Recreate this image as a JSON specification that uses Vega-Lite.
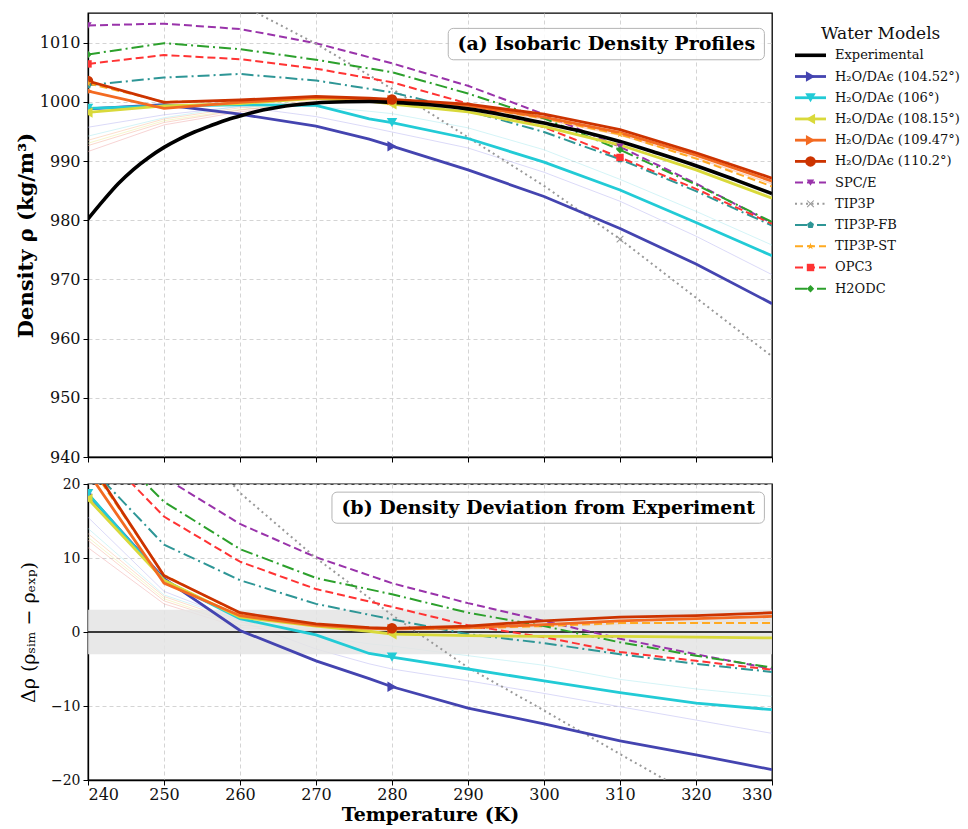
{
  "$schema": "https://vega.github.io/schema/vega-lite/v6.json",
  "padding": {"left": 14, "top": 12, "right": 0, "bottom": 0},
  "background": "white",
  "config": {
    "font": "DejaVu Serif",
    "view": {"stroke": "#000000", "strokeWidth": 1.3},
    "axis": {
      "labelFont": "DejaVu Serif", "labelFontSize": 16, "labelColor": "#111111", "labelOverlap": false,
      "titleFont": "DejaVu Serif", "titleFontSize": 21, "titleColor": "#000000", "titleFontWeight": "bold",
      "tickColor": "#000000", "tickSize": 5, "domainColor": "#000000", "domainWidth": 1.3,
      "gridColor": "#cfcfcf", "gridDash": [4, 3], "gridWidth": 0.9, "labelPadding": 3
    }
  },
  "datasets": {
    "series": [
      {"model": "H₂O/DAϵ (104.52°)", "group": "da", "T": 240, "rho": 998.8, "dev": 18.6},
      {"model": "H₂O/DAϵ (104.52°)", "group": "da", "T": 250, "rho": 999.5, "dev": 7.2},
      {"model": "H₂O/DAϵ (104.52°)", "group": "da", "T": 260, "rho": 997.9, "dev": 0.2},
      {"model": "H₂O/DAϵ (104.52°)", "group": "da", "T": 270, "rho": 995.9, "dev": -3.9},
      {"model": "H₂O/DAϵ (104.52°)", "group": "da", "T": 277, "rho": 993.7, "dev": -6.3},
      {"model": "H₂O/DAϵ (104.52°)", "group": "da", "T": 280, "rho": 992.5, "dev": -7.4},
      {"model": "H₂O/DAϵ (104.52°)", "group": "da", "T": 290, "rho": 988.5, "dev": -10.3},
      {"model": "H₂O/DAϵ (104.52°)", "group": "da", "T": 300, "rho": 984.0, "dev": -12.4},
      {"model": "H₂O/DAϵ (104.52°)", "group": "da", "T": 310, "rho": 978.6, "dev": -14.7},
      {"model": "H₂O/DAϵ (104.52°)", "group": "da", "T": 320, "rho": 972.6, "dev": -16.6},
      {"model": "H₂O/DAϵ (104.52°)", "group": "da", "T": 330, "rho": 965.9, "dev": -18.6},
      {"model": "H₂O/DAϵ (106°)", "group": "da", "T": 240, "rho": 998.9, "dev": 18.7},
      {"model": "H₂O/DAϵ (106°)", "group": "da", "T": 250, "rho": 999.3, "dev": 7.0},
      {"model": "H₂O/DAϵ (106°)", "group": "da", "T": 260, "rho": 999.5, "dev": 1.8},
      {"model": "H₂O/DAϵ (106°)", "group": "da", "T": 270, "rho": 999.4, "dev": -0.4},
      {"model": "H₂O/DAϵ (106°)", "group": "da", "T": 277, "rho": 997.1, "dev": -2.9},
      {"model": "H₂O/DAϵ (106°)", "group": "da", "T": 280, "rho": 996.5, "dev": -3.4},
      {"model": "H₂O/DAϵ (106°)", "group": "da", "T": 290, "rho": 993.8, "dev": -5.0},
      {"model": "H₂O/DAϵ (106°)", "group": "da", "T": 300, "rho": 989.8, "dev": -6.6},
      {"model": "H₂O/DAϵ (106°)", "group": "da", "T": 310, "rho": 985.1, "dev": -8.2},
      {"model": "H₂O/DAϵ (106°)", "group": "da", "T": 320, "rho": 979.6, "dev": -9.6},
      {"model": "H₂O/DAϵ (106°)", "group": "da", "T": 330, "rho": 974.0, "dev": -10.5},
      {"model": "H₂O/DAϵ (108.15°)", "group": "da", "T": 240, "rho": 998.2, "dev": 18.0},
      {"model": "H₂O/DAϵ (108.15°)", "group": "da", "T": 250, "rho": 999.3, "dev": 7.0},
      {"model": "H₂O/DAϵ (108.15°)", "group": "da", "T": 260, "rho": 999.7, "dev": 2.0},
      {"model": "H₂O/DAϵ (108.15°)", "group": "da", "T": 270, "rho": 1000.6, "dev": 0.8},
      {"model": "H₂O/DAϵ (108.15°)", "group": "da", "T": 277, "rho": 1000.1, "dev": 0.1},
      {"model": "H₂O/DAϵ (108.15°)", "group": "da", "T": 280, "rho": 999.6, "dev": -0.3},
      {"model": "H₂O/DAϵ (108.15°)", "group": "da", "T": 290, "rho": 998.3, "dev": -0.5},
      {"model": "H₂O/DAϵ (108.15°)", "group": "da", "T": 300, "rho": 995.8, "dev": -0.6},
      {"model": "H₂O/DAϵ (108.15°)", "group": "da", "T": 310, "rho": 992.7, "dev": -0.6},
      {"model": "H₂O/DAϵ (108.15°)", "group": "da", "T": 320, "rho": 988.5, "dev": -0.7},
      {"model": "H₂O/DAϵ (108.15°)", "group": "da", "T": 330, "rho": 983.7, "dev": -0.8},
      {"model": "H₂O/DAϵ (109.47°)", "group": "da", "T": 240, "rho": 1001.8, "dev": 21.6},
      {"model": "H₂O/DAϵ (109.47°)", "group": "da", "T": 250, "rho": 998.9, "dev": 6.6},
      {"model": "H₂O/DAϵ (109.47°)", "group": "da", "T": 260, "rho": 999.9, "dev": 2.2},
      {"model": "H₂O/DAϵ (109.47°)", "group": "da", "T": 270, "rho": 1000.7, "dev": 0.9},
      {"model": "H₂O/DAϵ (109.47°)", "group": "da", "T": 277, "rho": 1000.5, "dev": 0.5},
      {"model": "H₂O/DAϵ (109.47°)", "group": "da", "T": 280, "rho": 1000.3, "dev": 0.4},
      {"model": "H₂O/DAϵ (109.47°)", "group": "da", "T": 290, "rho": 999.4, "dev": 0.6},
      {"model": "H₂O/DAϵ (109.47°)", "group": "da", "T": 300, "rho": 997.4, "dev": 1.0},
      {"model": "H₂O/DAϵ (109.47°)", "group": "da", "T": 310, "rho": 994.8, "dev": 1.5},
      {"model": "H₂O/DAϵ (109.47°)", "group": "da", "T": 320, "rho": 991.0, "dev": 1.8},
      {"model": "H₂O/DAϵ (109.47°)", "group": "da", "T": 330, "rho": 986.6, "dev": 2.1},
      {"model": "H₂O/DAϵ (110.2°)", "group": "da", "T": 240, "rho": 1003.5, "dev": 23.3},
      {"model": "H₂O/DAϵ (110.2°)", "group": "da", "T": 250, "rho": 999.9, "dev": 7.6},
      {"model": "H₂O/DAϵ (110.2°)", "group": "da", "T": 260, "rho": 1000.3, "dev": 2.6},
      {"model": "H₂O/DAϵ (110.2°)", "group": "da", "T": 270, "rho": 1000.9, "dev": 1.1},
      {"model": "H₂O/DAϵ (110.2°)", "group": "da", "T": 277, "rho": 1000.6, "dev": 0.6},
      {"model": "H₂O/DAϵ (110.2°)", "group": "da", "T": 280, "rho": 1000.4, "dev": 0.5},
      {"model": "H₂O/DAϵ (110.2°)", "group": "da", "T": 290, "rho": 999.6, "dev": 0.8},
      {"model": "H₂O/DAϵ (110.2°)", "group": "da", "T": 300, "rho": 997.9, "dev": 1.5},
      {"model": "H₂O/DAϵ (110.2°)", "group": "da", "T": 310, "rho": 995.3, "dev": 2.0},
      {"model": "H₂O/DAϵ (110.2°)", "group": "da", "T": 320, "rho": 991.4, "dev": 2.2},
      {"model": "H₂O/DAϵ (110.2°)", "group": "da", "T": 330, "rho": 987.1, "dev": 2.6},
      {"model": "SPC/E", "group": "ref", "T": 240, "rho": 1012.9, "dev": 32.7},
      {"model": "SPC/E", "group": "ref", "T": 250, "rho": 1013.2, "dev": 20.9},
      {"model": "SPC/E", "group": "ref", "T": 260, "rho": 1012.3, "dev": 14.6},
      {"model": "SPC/E", "group": "ref", "T": 270, "rho": 1009.9, "dev": 10.1},
      {"model": "SPC/E", "group": "ref", "T": 280, "rho": 1006.5, "dev": 6.6},
      {"model": "SPC/E", "group": "ref", "T": 290, "rho": 1002.7, "dev": 3.9},
      {"model": "SPC/E", "group": "ref", "T": 300, "rho": 997.9, "dev": 1.5},
      {"model": "SPC/E", "group": "ref", "T": 310, "rho": 992.4, "dev": -0.9},
      {"model": "SPC/E", "group": "ref", "T": 320, "rho": 986.2, "dev": -3.0},
      {"model": "SPC/E", "group": "ref", "T": 330, "rho": 979.5, "dev": -5.0},
      {"model": "TIP3P", "group": "ref", "T": 240, "rho": 1025.2, "dev": 45.0},
      {"model": "TIP3P", "group": "ref", "T": 250, "rho": 1023.3, "dev": 31.0},
      {"model": "TIP3P", "group": "ref", "T": 260, "rho": 1016.5, "dev": 18.8},
      {"model": "TIP3P", "group": "ref", "T": 270, "rho": 1009.8, "dev": 10.0},
      {"model": "TIP3P", "group": "ref", "T": 280, "rho": 1002.2, "dev": 2.3},
      {"model": "TIP3P", "group": "ref", "T": 290, "rho": 994.0, "dev": -4.8},
      {"model": "TIP3P", "group": "ref", "T": 300, "rho": 985.8, "dev": -10.6},
      {"model": "TIP3P", "group": "ref", "T": 310, "rho": 976.8, "dev": -16.5},
      {"model": "TIP3P", "group": "ref", "T": 320, "rho": 966.9, "dev": -22.3},
      {"model": "TIP3P", "group": "ref", "T": 330, "rho": 957.0, "dev": -27.5},
      {"model": "TIP3P-FB", "group": "ref", "T": 240, "rho": 1002.8, "dev": 22.6},
      {"model": "TIP3P-FB", "group": "ref", "T": 250, "rho": 1004.1, "dev": 11.8},
      {"model": "TIP3P-FB", "group": "ref", "T": 260, "rho": 1004.7, "dev": 7.0},
      {"model": "TIP3P-FB", "group": "ref", "T": 270, "rho": 1003.6, "dev": 3.8},
      {"model": "TIP3P-FB", "group": "ref", "T": 280, "rho": 1001.6, "dev": 1.7},
      {"model": "TIP3P-FB", "group": "ref", "T": 290, "rho": 998.5, "dev": -0.3},
      {"model": "TIP3P-FB", "group": "ref", "T": 300, "rho": 994.9, "dev": -1.5},
      {"model": "TIP3P-FB", "group": "ref", "T": 310, "rho": 990.3, "dev": -3.0},
      {"model": "TIP3P-FB", "group": "ref", "T": 320, "rho": 984.9, "dev": -4.3},
      {"model": "TIP3P-FB", "group": "ref", "T": 330, "rho": 979.1, "dev": -5.4},
      {"model": "TIP3P-ST", "group": "ref", "T": 240, "rho": 1003.1, "dev": 22.9},
      {"model": "TIP3P-ST", "group": "ref", "T": 250, "rho": 1000.0, "dev": 7.7},
      {"model": "TIP3P-ST", "group": "ref", "T": 260, "rho": 1000.2, "dev": 2.5},
      {"model": "TIP3P-ST", "group": "ref", "T": 270, "rho": 1000.8, "dev": 1.0},
      {"model": "TIP3P-ST", "group": "ref", "T": 280, "rho": 1000.3, "dev": 0.4},
      {"model": "TIP3P-ST", "group": "ref", "T": 290, "rho": 999.3, "dev": 0.5},
      {"model": "TIP3P-ST", "group": "ref", "T": 300, "rho": 997.2, "dev": 0.8},
      {"model": "TIP3P-ST", "group": "ref", "T": 310, "rho": 994.5, "dev": 1.2},
      {"model": "TIP3P-ST", "group": "ref", "T": 320, "rho": 990.4, "dev": 1.2},
      {"model": "TIP3P-ST", "group": "ref", "T": 330, "rho": 985.7, "dev": 1.2},
      {"model": "OPC3", "group": "ref", "T": 240, "rho": 1006.4, "dev": 26.2},
      {"model": "OPC3", "group": "ref", "T": 250, "rho": 1007.9, "dev": 15.6},
      {"model": "OPC3", "group": "ref", "T": 260, "rho": 1007.2, "dev": 9.5},
      {"model": "OPC3", "group": "ref", "T": 270, "rho": 1005.6, "dev": 5.8},
      {"model": "OPC3", "group": "ref", "T": 280, "rho": 1003.3, "dev": 3.4},
      {"model": "OPC3", "group": "ref", "T": 290, "rho": 999.7, "dev": 0.9},
      {"model": "OPC3", "group": "ref", "T": 300, "rho": 995.7, "dev": -0.7},
      {"model": "OPC3", "group": "ref", "T": 310, "rho": 990.6, "dev": -2.7},
      {"model": "OPC3", "group": "ref", "T": 320, "rho": 985.3, "dev": -3.9},
      {"model": "OPC3", "group": "ref", "T": 330, "rho": 979.4, "dev": -5.1},
      {"model": "H2ODC", "group": "ref", "T": 240, "rho": 1008.0, "dev": 27.8},
      {"model": "H2ODC", "group": "ref", "T": 250, "rho": 1009.9, "dev": 17.6},
      {"model": "H2ODC", "group": "ref", "T": 260, "rho": 1008.9, "dev": 11.2},
      {"model": "H2ODC", "group": "ref", "T": 270, "rho": 1007.1, "dev": 7.3},
      {"model": "H2ODC", "group": "ref", "T": 280, "rho": 1005.0, "dev": 5.1},
      {"model": "H2ODC", "group": "ref", "T": 290, "rho": 1001.4, "dev": 2.6},
      {"model": "H2ODC", "group": "ref", "T": 300, "rho": 997.2, "dev": 0.8},
      {"model": "H2ODC", "group": "ref", "T": 310, "rho": 991.9, "dev": -1.4},
      {"model": "H2ODC", "group": "ref", "T": 320, "rho": 986.0, "dev": -3.2},
      {"model": "H2ODC", "group": "ref", "T": 330, "rho": 979.7, "dev": -4.8},
      {"model": "replica A", "group": "faint", "T": 240, "rho": 995.7, "dev": 15.5},
      {"model": "replica A", "group": "faint", "T": 250, "rho": 997.8, "dev": 5.5},
      {"model": "replica A", "group": "faint", "T": 260, "rho": 999.2, "dev": 1.5},
      {"model": "replica A", "group": "faint", "T": 270, "rho": 997.5, "dev": -2.3},
      {"model": "replica A", "group": "faint", "T": 277, "rho": 995.7, "dev": -4.3},
      {"model": "replica A", "group": "faint", "T": 280, "rho": 994.9, "dev": -5.0},
      {"model": "replica A", "group": "faint", "T": 290, "rho": 992.2, "dev": -6.6},
      {"model": "replica A", "group": "faint", "T": 300, "rho": 988.1, "dev": -8.3},
      {"model": "replica A", "group": "faint", "T": 310, "rho": 983.2, "dev": -10.1},
      {"model": "replica A", "group": "faint", "T": 320, "rho": 977.3, "dev": -11.9},
      {"model": "replica A", "group": "faint", "T": 330, "rho": 970.8, "dev": -13.7},
      {"model": "replica B", "group": "faint", "T": 240, "rho": 994.2, "dev": 14.0},
      {"model": "replica B", "group": "faint", "T": 250, "rho": 997.3, "dev": 5.0},
      {"model": "replica B", "group": "faint", "T": 260, "rho": 999.3, "dev": 1.6},
      {"model": "replica B", "group": "faint", "T": 270, "rho": 999.2, "dev": -0.6},
      {"model": "replica B", "group": "faint", "T": 277, "rho": 998.4, "dev": -1.6},
      {"model": "replica B", "group": "faint", "T": 280, "rho": 998.0, "dev": -1.9},
      {"model": "replica B", "group": "faint", "T": 290, "rho": 995.6, "dev": -3.2},
      {"model": "replica B", "group": "faint", "T": 300, "rho": 991.9, "dev": -4.5},
      {"model": "replica B", "group": "faint", "T": 310, "rho": 986.9, "dev": -6.4},
      {"model": "replica B", "group": "faint", "T": 320, "rho": 981.5, "dev": -7.7},
      {"model": "replica B", "group": "faint", "T": 330, "rho": 975.8, "dev": -8.7},
      {"model": "replica C", "group": "faint", "T": 240, "rho": 993.0, "dev": 12.8},
      {"model": "replica C", "group": "faint", "T": 250, "rho": 996.8, "dev": 4.5},
      {"model": "replica C", "group": "faint", "T": 260, "rho": 998.7, "dev": 1.0},
      {"model": "replica C", "group": "faint", "T": 270, "rho": 1000.0, "dev": 0.2},
      {"model": "replica C", "group": "faint", "T": 277, "rho": 999.9, "dev": -0.1},
      {"model": "replica C", "group": "faint", "T": 280, "rho": 999.7, "dev": -0.2},
      {"model": "replica C", "group": "faint", "T": 290, "rho": 998.5, "dev": -0.3},
      {"model": "replica C", "group": "faint", "T": 300, "rho": 996.0, "dev": -0.4},
      {"model": "replica C", "group": "faint", "T": 310, "rho": 992.8, "dev": -0.5},
      {"model": "replica C", "group": "faint", "T": 320, "rho": 988.7, "dev": -0.5},
      {"model": "replica C", "group": "faint", "T": 330, "rho": 984.0, "dev": -0.5},
      {"model": "replica D", "group": "faint", "T": 240, "rho": 993.5, "dev": 13.3},
      {"model": "replica D", "group": "faint", "T": 250, "rho": 997.1, "dev": 4.8},
      {"model": "replica D", "group": "faint", "T": 260, "rho": 999.0, "dev": 1.3},
      {"model": "replica D", "group": "faint", "T": 270, "rho": 1000.2, "dev": 0.4},
      {"model": "replica D", "group": "faint", "T": 277, "rho": 1000.2, "dev": 0.2},
      {"model": "replica D", "group": "faint", "T": 280, "rho": 1000.1, "dev": 0.2},
      {"model": "replica D", "group": "faint", "T": 290, "rho": 999.2, "dev": 0.4},
      {"model": "replica D", "group": "faint", "T": 300, "rho": 997.1, "dev": 0.7},
      {"model": "replica D", "group": "faint", "T": 310, "rho": 994.4, "dev": 1.1},
      {"model": "replica D", "group": "faint", "T": 320, "rho": 990.6, "dev": 1.4},
      {"model": "replica D", "group": "faint", "T": 330, "rho": 986.2, "dev": 1.7},
      {"model": "replica E", "group": "faint", "T": 240, "rho": 992.6, "dev": 12.4},
      {"model": "replica E", "group": "faint", "T": 250, "rho": 996.5, "dev": 4.2},
      {"model": "replica E", "group": "faint", "T": 260, "rho": 998.6, "dev": 0.9},
      {"model": "replica E", "group": "faint", "T": 270, "rho": 1000.0, "dev": 0.2},
      {"model": "replica E", "group": "faint", "T": 277, "rho": 1000.1, "dev": 0.1},
      {"model": "replica E", "group": "faint", "T": 280, "rho": 1000.0, "dev": 0.1},
      {"model": "replica E", "group": "faint", "T": 290, "rho": 999.1, "dev": 0.3},
      {"model": "replica E", "group": "faint", "T": 300, "rho": 997.0, "dev": 0.6},
      {"model": "replica E", "group": "faint", "T": 310, "rho": 994.3, "dev": 1.0},
      {"model": "replica E", "group": "faint", "T": 320, "rho": 990.5, "dev": 1.3},
      {"model": "replica E", "group": "faint", "T": 330, "rho": 986.1, "dev": 1.6},
      {"model": "replica F", "group": "faint", "T": 240, "rho": 991.6, "dev": 11.4},
      {"model": "replica F", "group": "faint", "T": 250, "rho": 996.1, "dev": 3.8},
      {"model": "replica F", "group": "faint", "T": 260, "rho": 998.3, "dev": 0.6},
      {"model": "replica F", "group": "faint", "T": 270, "rho": 999.9, "dev": 0.1},
      {"model": "replica F", "group": "faint", "T": 277, "rho": 1000.0, "dev": 0.0},
      {"model": "replica F", "group": "faint", "T": 280, "rho": 1000.0, "dev": 0.1},
      {"model": "replica F", "group": "faint", "T": 290, "rho": 999.2, "dev": 0.4},
      {"model": "replica F", "group": "faint", "T": 300, "rho": 997.3, "dev": 0.9},
      {"model": "replica F", "group": "faint", "T": 310, "rho": 994.7, "dev": 1.4},
      {"model": "replica F", "group": "faint", "T": 320, "rho": 991.0, "dev": 1.8},
      {"model": "replica F", "group": "faint", "T": 330, "rho": 986.7, "dev": 2.2}
    ],
    "experimental": [
      {"T": 240, "rho": 980.2}, {"T": 242, "rho": 983.3}, {"T": 244, "rho": 986.2}, {"T": 246, "rho": 988.6},
      {"T": 248, "rho": 990.6}, {"T": 250, "rho": 992.3}, {"T": 252, "rho": 993.7}, {"T": 254, "rho": 994.9},
      {"T": 256, "rho": 995.9}, {"T": 258, "rho": 996.85}, {"T": 260, "rho": 997.6}, {"T": 263, "rho": 998.6},
      {"T": 266, "rho": 999.3}, {"T": 270, "rho": 999.8}, {"T": 274, "rho": 1000.0}, {"T": 277, "rho": 1000.05},
      {"T": 280, "rho": 999.9}, {"T": 285, "rho": 999.5}, {"T": 290, "rho": 998.8}, {"T": 295, "rho": 997.7},
      {"T": 300, "rho": 996.4}, {"T": 305, "rho": 995.0}, {"T": 310, "rho": 993.3}, {"T": 315, "rho": 991.3},
      {"T": 320, "rho": 989.2}, {"T": 325, "rho": 986.9}, {"T": 330, "rho": 984.5}
    ],
    "legend": [
      {"model": "Experimental", "group": "exp", "idx": 1},
      {"model": "H₂O/DAϵ (104.52°)", "group": "da", "idx": 2},
      {"model": "H₂O/DAϵ (106°)", "group": "da", "idx": 3},
      {"model": "H₂O/DAϵ (108.15°)", "group": "da", "idx": 4},
      {"model": "H₂O/DAϵ (109.47°)", "group": "da", "idx": 5},
      {"model": "H₂O/DAϵ (110.2°)", "group": "da", "idx": 6},
      {"model": "SPC/E", "group": "ref", "idx": 7},
      {"model": "TIP3P", "group": "ref", "idx": 8},
      {"model": "TIP3P-FB", "group": "ref", "idx": 9},
      {"model": "TIP3P-ST", "group": "ref", "idx": 10},
      {"model": "OPC3", "group": "ref", "idx": 11},
      {"model": "H2ODC", "group": "ref", "idx": 12}
    ]
  },
  "hconcat": [
    {
      "vconcat": [
        {
          "width": 684,
          "height": 444,
          "layer": [
            {
              "data": {"name": "series"},
              "transform": [{"filter": "datum.group == 'faint'"}],
              "mark": {"type": "line", "strokeWidth": 1, "opacity": 0.45, "clip": true},
              "encoding": {
                "x": {"field": "T", "type": "quantitative", "scale": {"domain": [240, 330], "nice": false, "zero": false},
                      "axis": {"values": [240, 250, 260, 270, 280, 290, 300, 310, 320, 330], "labels": false, "title": null, "grid": true,
                               "gridOpacity": {"condition": {"test": "datum.value == 240 || datum.value == 330", "value": 0}, "value": 1}}},
                "y": {"field": "rho", "type": "quantitative", "scale": {"domain": [940, 1015], "nice": false, "zero": false},
                      "axis": {"values": [940, 950, 960, 970, 980, 990, 1000, 1010], "format": "d", "title": "Density ρ (kg/m³)", "titlePadding": 3, "grid": true}},
                "color": {"field": "model", "type": "nominal", "legend": null,
                  "scale": {"domain": ["Experimental", "H₂O/DAϵ (104.52°)", "H₂O/DAϵ (106°)", "H₂O/DAϵ (108.15°)", "H₂O/DAϵ (109.47°)", "H₂O/DAϵ (110.2°)", "SPC/E", "TIP3P", "TIP3P-FB", "TIP3P-ST", "OPC3", "H2ODC", "replica A", "replica B", "replica C", "replica D", "replica E", "replica F"],
                            "range": ["#000000", "#4444b0", "#22cbd6", "#d9d93a", "#f36a21", "#cc3300", "#9933aa", "#999999", "#2e9696", "#ffaa22", "#ff3333", "#2ca02c", "#b0acf0", "#9fe6ee", "#ecec90", "#f8b890", "#f4a890", "#eea0a0"]}}
              }
            },
            {
              "data": {"name": "series"},
              "transform": [{"filter": "datum.group == 'ref'"}],
              "mark": {"type": "line", "strokeWidth": 2, "clip": true, "strokeCap": "butt"},
              "encoding": {
                "x": {"field": "T", "type": "quantitative"},
                "y": {"field": "rho", "type": "quantitative"},
                "color": {"field": "model", "type": "nominal", "legend": null},
                "strokeDash": {"field": "model", "type": "nominal", "legend": null,
                  "scale": {"domain": ["SPC/E", "TIP3P", "TIP3P-FB", "TIP3P-ST", "OPC3", "H2ODC"],
                            "range": [[8, 4], [2, 3.5], [12, 4, 2, 4], [8, 4], [8, 4], [12, 4, 2, 4]]}}
              }
            },
            {
              "data": {"name": "series"},
              "transform": [{"filter": "datum.group == 'da'"}],
              "mark": {"type": "line", "strokeWidth": 2.8, "clip": true},
              "encoding": {
                "x": {"field": "T", "type": "quantitative"},
                "y": {"field": "rho", "type": "quantitative"},
                "color": {"field": "model", "type": "nominal", "legend": null}
              }
            },
            {
              "data": {"name": "experimental"},
              "mark": {"type": "line", "strokeWidth": 3.6, "color": "#000000", "interpolate": "monotone", "clip": true},
              "encoding": {
                "x": {"field": "T", "type": "quantitative"},
                "y": {"field": "rho", "type": "quantitative"}
              }
            },
            {
              "data": {"name": "series"},
              "transform": [{"filter": "(datum.group == 'da' && (datum.T == 240 || datum.T == 280)) || (datum.group == 'ref' && (datum.T == 240 || datum.T == 310))"}],
              "mark": {"type": "point", "filled": true, "opacity": 1, "clip": true},
              "encoding": {
                "x": {"field": "T", "type": "quantitative"},
                "y": {"field": "rho", "type": "quantitative"},
                "color": {"field": "model", "type": "nominal", "legend": null},
                "shape": {"field": "model", "type": "nominal", "legend": null,
                  "scale": {"domain": ["H₂O/DAϵ (104.52°)", "H₂O/DAϵ (106°)", "H₂O/DAϵ (108.15°)", "H₂O/DAϵ (109.47°)", "H₂O/DAϵ (110.2°)", "SPC/E", "TIP3P", "TIP3P-FB", "TIP3P-ST", "OPC3", "H2ODC"],
                            "range": ["triangle-right", "triangle-down", "triangle-left", "triangle-right", "circle", "triangle-down",
                                      "M-1,-0.8L-0.8,-1L0,-0.2L0.8,-1L1,-0.8L0.2,0L1,0.8L0.8,1L0,0.2L-0.8,1L-1,0.8L-0.2,0Z",
                                      "M0,-1L0.951,-0.309L0.588,0.809L-0.588,0.809L-0.951,-0.309Z",
                                      "M0,-1L0.223,-0.307L0.951,-0.309L0.361,0.117L0.588,0.809L0,0.38L-0.588,0.809L-0.361,0.117L-0.951,-0.309L-0.223,-0.307Z",
                                      "square", "diamond"]}},
                "size": {"condition": {"test": "datum.group == 'da'", "value": 110}, "value": 55}
              }
            },
            {
              "data": {"values": [{"label": "(a) Isobaric Density Profiles"}]},
              "mark": {"type": "rect", "fill": "#ffffff", "fillOpacity": 0.85, "stroke": "#b5b5b5", "strokeWidth": 1, "cornerRadius": 5},
              "encoding": {
                "x": {"datum": 287.4, "type": "quantitative"},
                "x2": {"datum": 329.0},
                "y": {"datum": 1012.4, "type": "quantitative"},
                "y2": {"datum": 1007.1}
              }
            },
            {
              "data": {"values": [{"label": "(a) Isobaric Density Profiles"}]},
              "mark": {"type": "text", "font": "DejaVu Serif", "fontWeight": "bold", "fontSize": 19, "align": "center", "baseline": "middle", "color": "#000000"},
              "encoding": {
                "x": {"datum": 308.2, "type": "quantitative"},
                "y": {"datum": 1009.75, "type": "quantitative"},
                "text": {"field": "label"}
              }
            }
          ]
        },
        {
          "width": 684,
          "height": 296,
          "layer": [
            {
              "data": {"name": "series"},
              "transform": [{"filter": "datum.group == 'faint'"}],
              "mark": {"type": "line", "strokeWidth": 1, "opacity": 0.45, "clip": true},
              "encoding": {
                "x": {"field": "T", "type": "quantitative", "scale": {"domain": [240, 330], "nice": false, "zero": false},
                      "axis": {"values": [240, 250, 260, 270, 280, 290, 300, 310, 320, 330], "title": "Temperature (K)", "titleFontSize": 19, "titlePadding": 3, "labelPadding": 1, "grid": true,
                               "gridOpacity": {"condition": {"test": "datum.value == 240 || datum.value == 330", "value": 0}, "value": 1}}},
                "y": {"field": "dev", "type": "quantitative", "scale": {"domain": [-20, 20], "nice": false, "zero": false},
                      "axis": {"values": [-20, -15, -10, -5, 0, 5, 10, 15, 20], "tickCount": 8, "labelFontSize": 14, "title": "Δρ (ρₛᵢₘ − ρₑₓₚ)", "titleFontWeight": "normal", "titleFontSize": 19, "titlePadding": 12, "grid": true, "labelOverlap": false}},
                "color": {"field": "model", "type": "nominal", "legend": null}
              }
            },
            {
              "data": {"values": [{"band": "±3"}]},
              "mark": {"type": "rect", "fill": "#e4e4e4", "opacity": 0.85},
              "encoding": {
                "x": {"datum": 240, "type": "quantitative"},
                "x2": {"datum": 330},
                "y": {"datum": 3, "type": "quantitative"},
                "y2": {"datum": -3}
              }
            },
            {
              "data": {"values": [{"ref": 0}]},
              "mark": {"type": "rule", "color": "#000000", "strokeWidth": 1.6},
              "encoding": {
                "x": {"datum": 240, "type": "quantitative"},
                "x2": {"datum": 330},
                "y": {"datum": 0, "type": "quantitative"}
              }
            },
            {
              "data": {"name": "series"},
              "transform": [{"filter": "datum.group == 'ref'"}],
              "mark": {"type": "line", "strokeWidth": 2, "clip": true, "strokeCap": "butt"},
              "encoding": {
                "x": {"field": "T", "type": "quantitative"},
                "y": {"field": "dev", "type": "quantitative"},
                "color": {"field": "model", "type": "nominal", "legend": null},
                "strokeDash": {"field": "model", "type": "nominal", "legend": null}
              }
            },
            {
              "data": {"name": "series"},
              "transform": [{"filter": "datum.group == 'da'"}],
              "mark": {"type": "line", "strokeWidth": 2.8, "clip": true},
              "encoding": {
                "x": {"field": "T", "type": "quantitative"},
                "y": {"field": "dev", "type": "quantitative"},
                "color": {"field": "model", "type": "nominal", "legend": null}
              }
            },
            {
              "data": {"name": "series"},
              "transform": [{"filter": "datum.group == 'da' && (datum.T == 240 || datum.T == 280)"}],
              "mark": {"type": "point", "filled": true, "opacity": 1, "clip": true, "size": 110},
              "encoding": {
                "x": {"field": "T", "type": "quantitative"},
                "y": {"field": "dev", "type": "quantitative"},
                "color": {"field": "model", "type": "nominal", "legend": null},
                "shape": {"field": "model", "type": "nominal", "legend": null}
              }
            },
            {
              "data": {"values": [{"label": "(b) Density Deviation from Experiment"}]},
              "mark": {"type": "rect", "fill": "#ffffff", "fillOpacity": 0.85, "stroke": "#b5b5b5", "strokeWidth": 1, "cornerRadius": 5},
              "encoding": {
                "x": {"datum": 272.1, "type": "quantitative"},
                "x2": {"datum": 329.0},
                "y": {"datum": 18.9, "type": "quantitative"},
                "y2": {"datum": 14.7}
              }
            },
            {
              "data": {"values": [{"label": "(b) Density Deviation from Experiment"}]},
              "mark": {"type": "text", "font": "DejaVu Serif", "fontWeight": "bold", "fontSize": 19, "align": "center", "baseline": "middle", "color": "#000000"},
              "encoding": {
                "x": {"datum": 300.55, "type": "quantitative"},
                "y": {"datum": 16.8, "type": "quantitative"},
                "text": {"field": "label"}
              }
            }
          ]
        }
      ],
      "spacing": 10
    },
    {
      "width": 180,
      "height": 290,
      "view": {"stroke": null},
      "layer": [
        {
          "data": {"values": [{"title": "Water Models", "idx": 0}]},
          "mark": {"type": "text", "font": "DejaVu Serif", "fontSize": 17, "align": "center", "baseline": "middle", "color": "#111111"},
          "encoding": {
            "x": {"datum": 98.7, "type": "quantitative", "scale": {"domain": [0, 180], "nice": false, "zero": false}, "axis": null},
            "y": {"field": "idx", "type": "quantitative", "scale": {"domain": [-0.993, 12.673], "reverse": true, "nice": false, "zero": false}, "axis": null},
            "text": {"field": "title"}
          }
        },
        {
          "data": {"name": "legend"},
          "transform": [{"filter": "datum.group == 'exp'"}],
          "mark": {"type": "rule", "strokeWidth": 3.6, "color": "#000000"},
          "encoding": {
            "x": {"datum": 13, "type": "quantitative"}, "x2": {"datum": 44},
            "y": {"field": "idx", "type": "quantitative"}
          }
        },
        {
          "data": {"name": "legend"},
          "transform": [{"filter": "datum.group == 'da'"}],
          "mark": {"type": "rule", "strokeWidth": 2.8},
          "encoding": {
            "x": {"datum": 13, "type": "quantitative"}, "x2": {"datum": 44},
            "y": {"field": "idx", "type": "quantitative"},
            "color": {"field": "model", "type": "nominal", "legend": null}
          }
        },
        {
          "data": {"name": "legend"},
          "transform": [{"filter": "datum.group == 'ref'"}],
          "mark": {"type": "rule", "strokeWidth": 2, "strokeCap": "butt"},
          "encoding": {
            "x": {"datum": 13, "type": "quantitative"}, "x2": {"datum": 44},
            "y": {"field": "idx", "type": "quantitative"},
            "color": {"field": "model", "type": "nominal", "legend": null},
            "strokeDash": {"field": "model", "type": "nominal", "legend": null}
          }
        },
        {
          "data": {"name": "legend"},
          "transform": [{"filter": "datum.group != 'exp'"}],
          "mark": {"type": "point", "filled": true, "opacity": 1},
          "encoding": {
            "x": {"datum": 28.5, "type": "quantitative"},
            "y": {"field": "idx", "type": "quantitative"},
            "color": {"field": "model", "type": "nominal", "legend": null},
            "shape": {"field": "model", "type": "nominal", "legend": null},
            "size": {"condition": {"test": "datum.group == 'da'", "value": 110}, "value": 55}
          }
        },
        {
          "data": {"name": "legend"},
          "mark": {"type": "text", "font": "DejaVu Serif", "fontSize": 13, "align": "left", "baseline": "middle", "color": "#111111"},
          "encoding": {
            "x": {"datum": 53, "type": "quantitative"},
            "y": {"field": "idx", "type": "quantitative"},
            "text": {"field": "model"}
          }
        }
      ]
    }
  ],
  "spacing": 8
}
